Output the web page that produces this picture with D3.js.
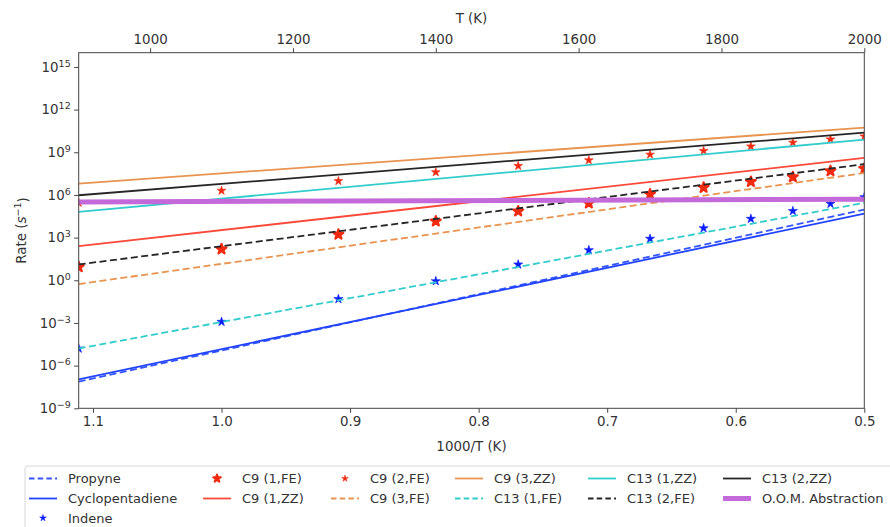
<!DOCTYPE html>
<html>
<head>
<meta charset="utf-8">
<script src="https://cdn.jsdelivr.net/npm/d3@7"></script>
<style>
  html, body { margin: 0; padding: 0; background: #fff; }
  svg { display: block; font-family: "DejaVu Sans", sans-serif; }
</style>
</head>
<body>
<svg id="chart" width="890" height="527"></svg>
<script>
// ---------------- DATA ----------------
// Arrhenius lines: rate (s^-1) at T = 900 K and T = 2000 K
const lineTemps = [900, 2000];
const propyne        = [7.4e-8, 9.3e4];
const cyclopentadiene= [1.1e-7, 4.9e4];
const c9_1ZZ         = [2.5e2, 4.0e8];
const c9_3FE         = [0.54, 3.5e7];
const c9_3ZZ         = [6.3e6, 5.4e10];
const c13_1FE        = [1.6e-5, 2.8e5];
const c13_1ZZ        = [6.5e4, 7.8e9];
const c13_2FE        = [13, 1.45e8];
const c13_2ZZ        = [9.5e5, 2.4e10];
const oomAbstraction = [3.2e5, 5.0e5];

// Marker series at T = 900 ... 2000 K
const markerTemps = [900, 1000, 1100, 1200, 1300, 1400, 1500, 1600, 1700, 1800, 1900, 2000];
const indene  = [1.6e-5, 1.2e-3, 4.8e-2, 0.87, 12.9, 132, 832, 4.6e3, 2.1e4, 7.4e4, 2.4e5, 6.9e5];
const c9_1FE  = [8.7, 155, 1.66e3, 1.41e4, 7.2e4, 2.6e5, 1.12e6, 3.3e6, 8.5e6, 1.82e7, 4.9e7, 7.1e7];
const c9_2FE  = [2.8e5, 2.0e6, 9.5e6, 4.0e7, 1.1e8, 2.75e8, 6.9e8, 1.26e9, 2.6e9, 4.8e9, 8.1e9, 1.32e10];

// Axis ticks
const bottomTicks = [1.1, 1.0, 0.9, 0.8, 0.7, 0.6, 0.5];
const topTicks = [1000, 1200, 1400, 1600, 1800, 2000];
const yTickExps = [-9, -6, -3, 0, 3, 6, 9, 12, 15];

// Series definitions (plot order)
const series = [
  {name: "Propyne",          type: "line",   values: propyne,         color: "#3355ff", dash: true,  width: 1.8},
  {name: "Cyclopentadiene",  type: "line",   values: cyclopentadiene, color: "#2244ff", dash: false, width: 1.8},
  {name: "Indene",           type: "marker", values: indene,          color: "#0a1cff", size: 26},
  {name: "C9 (1,FE)",        type: "marker", values: c9_1FE,          color: "#f22a10", size: 30, big: true},
  {name: "C9 (1,ZZ)",        type: "line",   values: c9_1ZZ,          color: "#f94a3a", dash: false, width: 1.8},
  {name: "C9 (2,FE)",        type: "marker", values: c9_2FE,          color: "#f22a10", size: 24},
  {name: "C9 (3,FE)",        type: "line",   values: c9_3FE,          color: "#e8944f", dash: true,  width: 1.8},
  {name: "C9 (3,ZZ)",        type: "line",   values: c9_3ZZ,          color: "#e8944f", dash: false, width: 1.8},
  {name: "C13 (1,FE)",       type: "line",   values: c13_1FE,         color: "#33cccc", dash: true,  width: 1.8},
  {name: "C13 (1,ZZ)",       type: "line",   values: c13_1ZZ,         color: "#33cccc", dash: false, width: 1.8},
  {name: "C13 (2,FE)",       type: "line",   values: c13_2FE,         color: "#262626", dash: true,  width: 1.8},
  {name: "C13 (2,ZZ)",       type: "line",   values: c13_2ZZ,         color: "#262626", dash: false, width: 1.8},
  {name: "O.O.M. Abstraction", type: "line", values: oomAbstraction,  color: "#c469d9", dash: false, width: 5}
];

// ---------------- LAYOUT ----------------
const svg = d3.select("#chart");
const L = 78.7, R = 864.3, T = 52.7, B = 408.3;
const textColor = "#333";
const fs = 13.4;

const x = d3.scaleLinear().domain([1000 / 900, 0.5]).range([L, R]);
const xTop = d3.scaleLinear().domain([900, 2000]).range([L, R]);
const y = d3.scaleLog().domain([1e-9, 1e16]).range([B, T]);

svg.append("defs").append("clipPath").attr("id", "plotclip")
  .append("rect").attr("x", L).attr("y", T).attr("width", R - L).attr("height", B - T);

const plot = svg.append("g").attr("clip-path", "url(#plotclip)");

const lineGen = d3.line().x(d => x(1000 / d[0])).y(d => y(d[1]));
const dashPattern = "7,3.5";

series.forEach(s => {
  if (s.type === "line") {
    const pts = lineTemps.map((t, i) => [t, s.values[i]]);
    plot.append("path").datum(pts)
      .attr("d", lineGen)
      .attr("fill", "none")
      .attr("stroke", s.color)
      .attr("stroke-width", s.width)
      .attr("stroke-dasharray", s.dash ? dashPattern : null);
  } else {
    const sym = d3.symbol().type(d3.symbolStar).size(s.size);
    plot.append("g").selectAll("path")
      .data(markerTemps.map((t, i) => [t, s.values[i]]))
      .join("path")
      .attr("d", sym)
      .attr("transform", d => `translate(${x(1000 / d[0])},${y(d[1])})`)
      .attr("fill", s.color)
      .attr("stroke", s.color)
      .attr("stroke-width", s.big ? 2.2 : 0.6)
      .attr("stroke-linejoin", "round");
  }
});

// Frame
svg.append("rect").attr("x", L).attr("y", T).attr("width", R - L).attr("height", B - T)
  .attr("fill", "none").attr("stroke", "#444").attr("stroke-width", 1);

// Bottom axis
const gB = svg.append("g").attr("transform", `translate(0,${B})`)
  .call(d3.axisBottom(x).tickValues(bottomTicks).tickFormat(d3.format(".1f")).tickSize(4.5).tickPadding(4));
// Top axis
const gT = svg.append("g").attr("transform", `translate(0,${T})`)
  .call(d3.axisTop(xTop).tickValues(topTicks).tickFormat(d3.format("d")).tickSize(4.5).tickPadding(4));
// Left axis
const gL = svg.append("g").attr("transform", `translate(${L},0)`)
  .call(d3.axisLeft(y).tickValues(yTickExps.map(e => Math.pow(10, e))).tickFormat(() => "").tickSize(4.5).tickPadding(4));

[gB, gT, gL].forEach(g => {
  g.select(".domain").remove();
  g.selectAll(".tick line").attr("stroke", "#444");
  g.selectAll("text").attr("fill", textColor).attr("font-size", fs).attr("font-family", "DejaVu Sans");
});

// Y tick labels with superscripts
gL.selectAll(".tick").each(function(d) {
  const e = Math.round(Math.log10(d));
  const t = d3.select(this).select("text").text(null).attr("x", -8).attr("dy", "0.32em");
  t.append("tspan").text("10");
  t.append("tspan").attr("font-size", 9.5).attr("dy", "-0.55em")
    .text(e < 0 ? "\u2212" + Math.abs(e) : String(e));
});

// Axis labels
svg.append("text").attr("x", (L + R) / 2).attr("y", 451).attr("text-anchor", "middle")
  .attr("fill", textColor).attr("font-size", fs).text("1000/T (K)");
svg.append("text").attr("x", (L + R) / 2).attr("y", 23).attr("text-anchor", "middle")
  .attr("fill", textColor).attr("font-size", fs).text("T (K)");
const yl = svg.append("text").attr("transform", `translate(26,${(T + B) / 2}) rotate(-90)`)
  .attr("text-anchor", "middle").attr("fill", textColor).attr("font-size", fs);
yl.append("tspan").text("Rate (");
yl.append("tspan").attr("font-style", "italic").text("s");
yl.append("tspan").attr("font-size", 9.5).attr("dy", "-0.55em").text("\u22121");
yl.append("tspan").attr("dy", "0.55em").text(")");

// ---------------- LEGEND ----------------
const leg = svg.append("g");
leg.append("rect").attr("x", 25).attr("y", 466).attr("width", 880).attr("height", 80)
  .attr("rx", 3).attr("fill", "#fff").attr("stroke", "#d6d6d6").attr("stroke-width", 1);
const colX = [29, 203, 331, 455, 588, 723];
const rowY = [478.5, 498.5, 518];
const nCols = 6;
const nRows = Math.ceil(series.length / nCols);
const extra = series.length % nCols;
let idx = 0;
for (let c = 0; c < nCols; c++) {
  const rowsHere = (extra === 0 || c < extra) ? nRows : nRows - 1;
  for (let r = 0; r < rowsHere; r++) {
    const s = series[idx++];
    const hx = colX[c], hy = rowY[r], hw = 28;
    const g = leg.append("g");
    if (s.type === "line") {
      g.append("line").attr("x1", hx).attr("x2", hx + hw).attr("y1", hy).attr("y2", hy)
        .attr("stroke", s.color).attr("stroke-width", s.width)
        .attr("stroke-dasharray", s.dash ? "5.5,3.2" : null);
    } else {
      g.append("path").attr("d", d3.symbol().type(d3.symbolStar).size(s.big ? 18 : 14)())
        .attr("transform", `translate(${hx + hw / 2},${hy})`)
        .attr("fill", s.color).attr("stroke", s.color).attr("stroke-width", s.big ? 2 : 0.5)
        .attr("stroke-linejoin", "round");
    }
    g.append("text").attr("x", hx + hw + 11).attr("y", hy).attr("dy", "0.35em")
      .attr("fill", textColor).attr("font-size", 13).text(s.name);
  }
}
</script>
</body>
</html>
